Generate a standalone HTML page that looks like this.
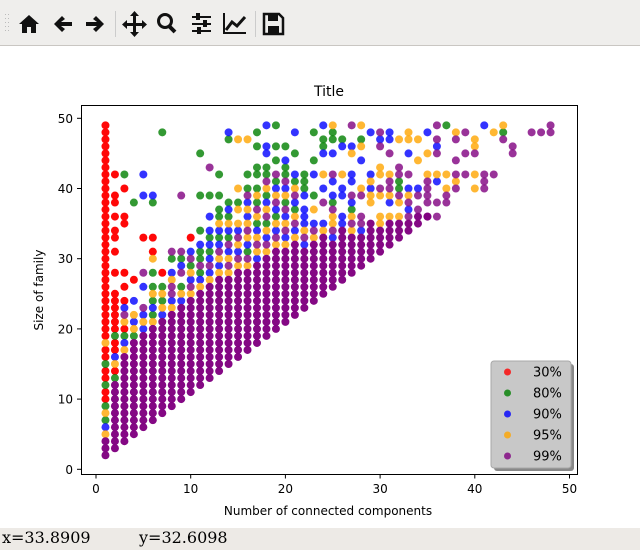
<!DOCTYPE html>
<html><head><meta charset="utf-8">
<style>
html,body{margin:0;padding:0;width:640px;height:550px;overflow:hidden;background:#fff;font-family:"DejaVu Sans","Liberation Sans",sans-serif;}
#toolbar{position:absolute;left:0;top:0;width:640px;height:45px;background:#efeeec;border-bottom:1px solid #c9c6c2;}
#status{position:absolute;left:0;top:528px;width:640px;height:22px;background:#edeae6;font-family:"DejaVu Serif","Liberation Serif",serif;font-size:16px;}
#chart{position:absolute;left:0;top:46px;}
</style></head><body>
<div id="toolbar">
<svg width="640" height="45">
 <g fill="#bbb"><rect x="5" y="14" width="1" height="1"/><rect x="5" y="18" width="1" height="1"/><rect x="5" y="22" width="1" height="1"/><rect x="5" y="26" width="1" height="1"/><rect x="5" y="30" width="1" height="1"/><rect x="8" y="14" width="1" height="1"/><rect x="8" y="18" width="1" height="1"/><rect x="8" y="22" width="1" height="1"/><rect x="8" y="26" width="1" height="1"/><rect x="8" y="30" width="1" height="1"/></g>
 <g><path d="M19 24 L29 15 L39 24 L36 24 L36 33 L31 33 L31 27 L27 27 L27 33 L22 33 L22 24 Z" fill="#111"/></g>
 <g><path d="M54 24 L62 16 L65 19 L61 22 L72 22 L72 26 L61 26 L65 29 L62 32 Z" fill="#111"/></g>
 <g><path d="M104 24 L96 16 L93 19 L97 22 L86 22 L86 26 L97 26 L93 29 L96 32 Z" fill="#111"/></g>
 <rect x="115" y="11" width="1" height="26" fill="#ccc"/>
 <g fill="#111"><rect x="133" y="15" width="3" height="19"/><rect x="125" y="23" width="19" height="3"/><path d="M134.5 11 L139 16 L130 16Z M134.5 37 L139 32 L130 32Z M122 24.5 L127 20 L127 29Z M147 24.5 L142 20 L142 29Z"/></g>
 <g><circle cx="165" cy="21" r="6.5" fill="none" stroke="#111" stroke-width="3"/><path d="M169 26 L175 32" stroke="#111" stroke-width="4"/></g>
 <g fill="#111"><rect x="192" y="16" width="19" height="2"/><rect x="192" y="23" width="19" height="2"/><rect x="192" y="30" width="19" height="2"/><rect x="196" y="13" width="4" height="7"/><rect x="203" y="20" width="4" height="7"/><rect x="197" y="27" width="4" height="7"/></g>
 <g><path d="M224 13 L224 33 L246 33" fill="none" stroke="#111" stroke-width="2"/><path d="M226 30 L232 22 L237 26 L245 17" fill="none" stroke="#111" stroke-width="3"/></g>
 <rect x="255" y="11" width="1" height="26" fill="#ccc"/>
 <g><path d="M264 14 L279 14 L283 18 L283 34 L264 34 Z" fill="none" stroke="#111" stroke-width="2.5"/><rect x="268" y="15" width="10" height="6" fill="#111"/><rect x="268" y="26" width="11" height="7" fill="#111"/></g>
</svg>
</div>
<svg id="chart" width="640" height="482"></svg>
<div id="status"><span style="position:absolute;left:2px;top:0px">x=33.8909</span><span style="position:absolute;left:139px;top:0px">y=32.6098</span></div>
<script>
// Column encoding: for x = index+1, characters give colour of the point at y = x+1, x+2, ... ('.' = none)
// r=30%, g=80%, b=90%, o=95%, p=99%
const columns = [
 "pppobgogrrgrrgrrorrrrrrrrrrrrrrrrrrrrrrrrrrrrrrr",
 "pppppppppp"+"grobrrgrrrrrr..r..r.rr.r.rr..r",
 "ppppppppppppp"+"obgropbr.r.r...."+"..rr...r.g",
 "pppppppppppppp"+"gobo.b..r..........g",
 "pppppppppppppp"+"bobp..b.p....r.....b..b",
 "pppppppppppppp"+"ogbgog.g.or.r....gb",
 "pppppppppppppp"+"bogog.r...................g",
 "pppppppppppppp"+"obppob.gp",
 "pppppppppppppp"+"bog.pbgp.......p",
 "pppppppppppppp"+"opbogpb.r",
 "pppppppppppppp"+"obgpggb.g....g.....g",
 "pppppppppppppp"+"obpbgbgb.b..g...p",
 "pppppppppppppp"+"obopbgbogg.g..g",
 "ppppppppppppp"+"opobpgbogbg........gb",
 "ppppppppppppp"+"opbopbo.og.o......o",
 "pppppppppppp"+"opgbopobobpg.g....o",
 "pppppppppppp"+"bopobgopgog.gg..g.g",
 "pppppppppppp"+"opbogpobgopgg.bb..b",
 "pppppppppppp"+"opbogbpobgp.g.g..g",
 "ppppppppppp"+"obpobpgobpggb.g",
 "ppppppppppp"+"obpogbpogb..g..b",
 "pppppppppbpob",
 "pppppppppopb",
 "pppppppppob",
 "pppppppbpo",
 "ppppppppb",
 "ppppppop",
 "pppppbp",
 "pppppp",
 "ppppo",
 "pppp",
 "ppp",
 "pp",
 "pp",
 "p"
];
// Sparse upper-right points: [x, y, colour code]
const extraPoints = [
 [24,49,"b"],[25,49,"o"],[27,49,"p"],[28,49,"o"],[36,49,"p"],[37,49,"g"],[41,49,"b"],[43,49,"o"],[48,49,"p"],
 [23,48,"g"],[25,48,"g"],[29,48,"b"],[30,48,"p"],[31,48,"b"],[33,48,"o"],[35,48,"b"],[38,48,"o"],[39,48,"p"],[42,48,"o"],[43,48,"g"],[46,48,"p"],[47,48,"p"],[48,48,"p"],
 [24,47,"g"],[25,47,"g"],[26,47,"g"],[28,47,"g"],[30,47,"b"],[31,47,"b"],[32,47,"o"],[33,47,"o"],[34,47,"o"],[36,47,"p"],[38,47,"p"],[40,47,"o"],[43,47,"p"],
 [24,46,"g"],[26,46,"b"],[27,46,"b"],[28,46,"o"],[30,46,"p"],[36,46,"b"],[40,46,"o"],[44,46,"p"],
 [24,45,"b"],[25,45,"b"],[27,45,"o"],[31,45,"p"],[33,45,"b"],[35,45,"o"],[36,45,"p"],[39,45,"p"],[40,45,"p"],[44,45,"p"],
 [23,44,"g"],[28,44,"b"],[34,44,"o"],[38,44,"p"],
 [30,43,"o"],[32,43,"p"],
 [22,42,"g"],[23,42,"b"],[24,42,"o"],[25,42,"p"],[26,42,"o"],[27,42,"b"],[29,42,"b"],[30,42,"o"],[31,42,"o"],[32,42,"p"],[33,42,"p"],[35,42,"o"],[36,42,"o"],[37,42,"o"],[38,42,"p"],[39,42,"p"],[40,42,"o"],[41,42,"p"],[42,42,"p"],
 [22,41,"g"],[25,41,"b"],[27,41,"b"],[29,41,"o"],[31,41,"p"],[32,41,"g"],[35,41,"p"],[36,41,"b"],[38,41,"o"],[41,41,"p"],
 [22,40,"g"],[24,40,"b"],[26,40,"b"],[28,40,"o"],[29,40,"b"],[30,40,"p"],[31,40,"p"],[32,40,"g"],[33,40,"b"],[34,40,"b"],[35,40,"p"],[37,40,"o"],[38,40,"p"],[40,40,"o"],[41,40,"p"],
 [22,39,"b"],[23,39,"g"],[25,39,"b"],[26,39,"b"],[27,39,"p"],[28,39,"p"],[29,39,"o"],[30,39,"o"],[31,39,"o"],[32,39,"p"],[33,39,"o"],[34,39,"p"],[35,39,"p"],[37,39,"p"],
 [24,38,"p"],[25,38,"g"],[27,38,"b"],[29,38,"o"],[31,38,"b"],[32,38,"o"],[33,38,"p"],[35,38,"p"],[36,38,"p"],[37,38,"p"],
 [22,37,"b"],[23,37,"o"],[25,37,"p"],[27,37,"g"],[33,37,"b"],[34,37,"p"],
 [22,36,"b"],[25,36,"o"],[26,36,"b"],[27,36,"o"],[28,36,"p"],[30,36,"o"],[31,36,"o"],[32,36,"o"],[33,36,"p"],[35,36,"p"],[36,36,"p"]
];
const seriesCodes = ["r","g","b","o","p"];
const seriesLabels = ["30%","80%","90%","95%","99%"];
const seriesColors = ["#ff0000","#008000","#0000ff","#ffa500","#800080"];
const xTicks = [0,10,20,30,40,50];
const yTicks = [0,10,20,30,40,50];

const NS="http://www.w3.org/2000/svg";
const svg=document.getElementById('chart');
const OY=46;
const box={l:81,r:577,t:105-OY,b:474-OY};
function xs(v){return 96+v*9.47;}
function ys(v){return 469.3-OY-v*7.02;}
function mk(tag,attrs){const e=document.createElementNS(NS,tag);for(const k in attrs)e.setAttribute(k,attrs[k]);return e;}

// points per series: [x, y, dense?]
const pts={r:[],g:[],b:[],o:[],p:[]};
columns.forEach((s,i)=>{const x=i+1;let run=true;for(let j=0;j<s.length;j++){const c=s[j];if(c!=='p'&&c!=='r')run=false;const y=x+1+j;if(c!=='.'&&y<=49)pts[c].push([x,y,run||c==='r']);}});
extraPoints.forEach(p=>pts[p[2]].push([p[0],p[1],false]));

const clip=mk('clipPath',{id:'pc'});clip.appendChild(mk('rect',{x:box.l,y:box.t,width:box.r-box.l,height:box.b-box.t}));
const defs=mk('defs',{});defs.appendChild(clip);
svg.appendChild(defs);

const title=mk('text',{x:329,y:96-OY,'text-anchor':'middle','font-size':14,fill:'#000'});
title.textContent='Title';


svg.appendChild(title);

seriesCodes.forEach((c,si)=>{
 const g=mk('g',{'clip-path':'url(#pc)'});
 
 
 pts[c].forEach(p=>{
  const d=mk('circle',{cx:xs(p[0]),cy:ys(p[1]),r:4,fill:seriesColors[si],'fill-opacity':p[2]?0.97:0.8});
  
  
  g.appendChild(d);
 });
 svg.appendChild(g);
});

const frame=mk('rect',{x:box.l+0.5,y:box.t+0.5,width:box.r-box.l,height:box.b-box.t,fill:'none',stroke:'#000','stroke-width':1});


svg.appendChild(frame);

xTicks.forEach(t=>{
 const x=xs(t);
 const l=mk('line',{x1:x,x2:x,y1:box.b+0.5,y2:box.b+4.5,stroke:'#000'});
 
 
 svg.appendChild(l);
 const tx=mk('text',{x:x,y:box.b+19,'text-anchor':'middle','font-size':12,fill:'#000'});
 tx.textContent=String(t);
 
 
 svg.appendChild(tx);
});
yTicks.forEach(t=>{
 const y=ys(t);
 const l=mk('line',{x1:box.l-4,x2:box.l,y1:y,y2:y,stroke:'#000'});
 
 
 svg.appendChild(l);
 const tx=mk('text',{x:box.l-8,y:y+4.5,'text-anchor':'end','font-size':12,fill:'#000'});
 tx.textContent=String(t);
 
 
 svg.appendChild(tx);
});
const xl=mk('text',{x:328,y:515-OY,'text-anchor':'middle','font-size':12,fill:'#000'});
xl.textContent='Number of connected components';


svg.appendChild(xl);
const yl=mk('text',{x:0,y:0,'text-anchor':'middle','font-size':12,fill:'#000',transform:'translate(43,'+(290-OY)+') rotate(-90)'});
yl.textContent='Size of family';


svg.appendChild(yl);

const lg=mk('g',{});


lg.appendChild(mk('rect',{x:494,y:364-OY,width:80,height:107,rx:3,fill:'#888'}));
lg.appendChild(mk('rect',{x:491,y:361-OY,width:80,height:107,rx:3,fill:'#c8c8c8',stroke:'#a8a8a8'}));
seriesLabels.forEach((lab,i)=>{
 const y=372+i*21-OY;
 const d=mk('circle',{cx:507.5,cy:y,r:3.5,fill:seriesColors[i],'fill-opacity':0.8});
 
 
 lg.appendChild(d);
 const t=mk('text',{x:533,y:y+4.5,'font-size':13,fill:'#000'});
 t.textContent=lab;
 
 
 lg.appendChild(t);
});
svg.appendChild(lg);
</script>
</body></html>
